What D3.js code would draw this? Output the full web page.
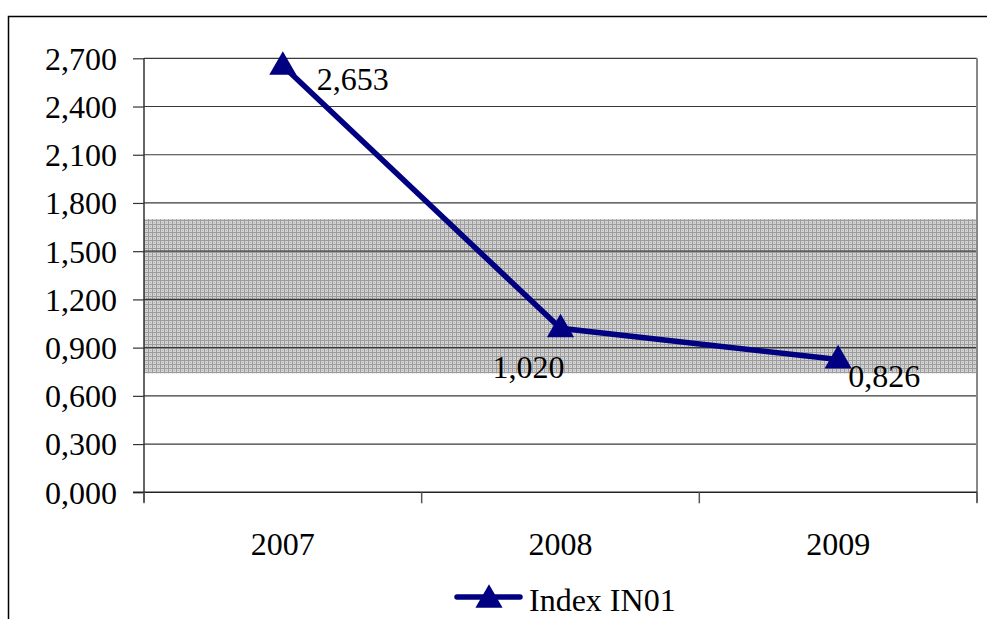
<!DOCTYPE html>
<html>
<head>
<meta charset="utf-8">
<script src="https://cdn.jsdelivr.net/npm/d3@7/dist/d3.min.js"></script>
<style>
  html, body { margin: 0; padding: 0; background: #fff; }
  svg text { font-family: "Liberation Serif", "Times New Roman", Times, "DejaVu Serif", serif !important; }
</style>
</head>
<body>
<svg id="chart" width="987" height="619"></svg>
<script>
// Series data
const years = ["2007", "2008", "2009"];
const indexValues = [2.653, 1.020, 0.826];
const valueLabels = ["2,653", "1,020", "0,826"];
const seriesName = "Index IN01";

// Y axis ticks
const yTicks = [0, 0.3, 0.6, 0.9, 1.2, 1.5, 1.8, 2.1, 2.4, 2.7];
const yTickLabels = ["0,000", "0,300", "0,600", "0,900", "1,200", "1,500", "1,800", "2,100", "2,400", "2,700"];

// Shaded reference band (lower, upper)
const bandRange = [0.74, 1.70];

const svg = d3.select("#chart");
const plot = { left: 144, right: 977, top: 58.3, bottom: 492.3 };
const navy = "#000080";
const fontSize = 32;

const x = d3.scaleBand().domain(years).range([plot.left, plot.right]).paddingInner(0).paddingOuter(0);
const y = d3.scaleLinear().domain([0, 2.7]).range([plot.bottom, plot.top]);

// Outer chart frame
svg.append("rect")
  .attr("x", 8.5).attr("y", 16.5).attr("width", 1000).attr("height", 640)
  .attr("fill", "none").attr("stroke", "#000").attr("stroke-width", 1.5);

// Dotted fill texture for the band
const defs = svg.append("defs");
const pat = defs.append("pattern")
  .attr("id", "dots").attr("patternUnits", "userSpaceOnUse")
  .attr("width", 4).attr("height", 4);
pat.append("rect").attr("width", 4).attr("height", 4).attr("fill", "#d4d4d4");
pat.append("rect").attr("x", 0).attr("y", 0).attr("width", 4).attr("height", 1).attr("fill", "#9c9c9c");
pat.append("rect").attr("x", 0).attr("y", 0).attr("width", 1).attr("height", 4).attr("fill", "#9c9c9c");
pat.append("rect").attr("x", 2).attr("y", 2).attr("width", 1).attr("height", 1).attr("fill", "#b0b0b0");

svg.append("rect")
  .attr("x", plot.left).attr("width", plot.right - plot.left)
  .attr("y", y(bandRange[1])).attr("height", y(bandRange[0]) - y(bandRange[1]))
  .attr("fill", "url(#dots)");

// Horizontal gridlines
svg.append("g")
  .selectAll("line")
  .data(yTicks.filter(d => d > 0))
  .join("line")
  .attr("x1", plot.left).attr("x2", plot.right)
  .attr("y1", d => y(d)).attr("y2", d => y(d))
  .attr("stroke", "#3a3a3a").attr("stroke-width", 1.2);

// Right border of plot area
svg.append("line")
  .attr("x1", plot.right).attr("x2", plot.right)
  .attr("y1", plot.top).attr("y2", plot.bottom + 10)
  .attr("stroke", "#888").attr("stroke-width", 2);

// Y axis
const yAxis = d3.axisLeft(y)
  .tickValues(yTicks)
  .tickFormat((d, i) => yTickLabels[i])
  .tickSize(11).tickPadding(16);
const gy = svg.append("g").attr("transform", `translate(${plot.left},0)`).call(yAxis);
gy.attr("font-family", null).attr("font-size", null);
gy.select(".domain").attr("stroke", "#333").attr("stroke-width", 1.5)
  .attr("d", `M0,${plot.top}V${plot.bottom + 10}`);
gy.selectAll(".tick line").attr("stroke", "#333").attr("stroke-width", 1.2);
gy.selectAll(".tick text")
  .attr("font-size", fontSize).attr("fill", "#000").attr("dy", "0.34em");

// X axis with ticks at category boundaries
svg.append("line")
  .attr("x1", plot.left - 11).attr("x2", plot.right)
  .attr("y1", plot.bottom).attr("y2", plot.bottom)
  .attr("stroke", "#222").attr("stroke-width", 1.6);
const bounds = years.map(d => x(d)).concat([x(years[years.length - 1]) + x.bandwidth()]);
svg.append("g").selectAll("line")
  .data(bounds)
  .join("line")
  .attr("x1", d => d).attr("x2", d => d)
  .attr("y1", plot.bottom).attr("y2", plot.bottom + 11)
  .attr("stroke", "#555").attr("stroke-width", 1.5);
svg.append("g").selectAll("text")
  .data(years)
  .join("text")
  .attr("x", d => x(d) + x.bandwidth() / 2)
  .attr("y", 555)
  .attr("text-anchor", "middle")
  .attr("font-size", fontSize)
  .text(d => d);

// Series line
const pts = years.map((d, i) => [x(d) + x.bandwidth() / 2, y(indexValues[i])]);
svg.append("path")
  .attr("d", d3.line()(pts))
  .attr("fill", "none").attr("stroke", navy).attr("stroke-width", 5.5);

// Triangle markers
const tri = d3.symbol().type(d3.symbolTriangle).size(320);
svg.append("g").selectAll("path")
  .data(pts)
  .join("path")
  .attr("transform", d => `translate(${d[0]},${d[1] + 1})`)
  .attr("d", tri)
  .attr("fill", navy);

// Value labels
const labelOffsets = [
  { dx: 34, dy: 24, anchor: "start" },
  { dx: 4, dy: 50, anchor: "end" },
  { dx: 10, dy: 27, anchor: "start" }
];
svg.append("g").selectAll("text")
  .data(pts)
  .join("text")
  .attr("x", (d, i) => d[0] + labelOffsets[i].dx)
  .attr("y", (d, i) => d[1] + labelOffsets[i].dy)
  .attr("text-anchor", (d, i) => labelOffsets[i].anchor)
  .attr("font-size", fontSize)
  .text((d, i) => valueLabels[i]);

// Legend
const lg = svg.append("g");
lg.append("line")
  .attr("x1", 457).attr("x2", 520).attr("y1", 597).attr("y2", 597)
  .attr("stroke", navy).attr("stroke-width", 5.5).attr("stroke-linecap", "round");
lg.append("path")
  .attr("transform", "translate(489,600)")
  .attr("d", tri).attr("fill", navy);
lg.append("text")
  .attr("x", 529).attr("y", 611)
  .attr("font-size", fontSize)
  .text(seriesName);
</script>
</body>
</html>
